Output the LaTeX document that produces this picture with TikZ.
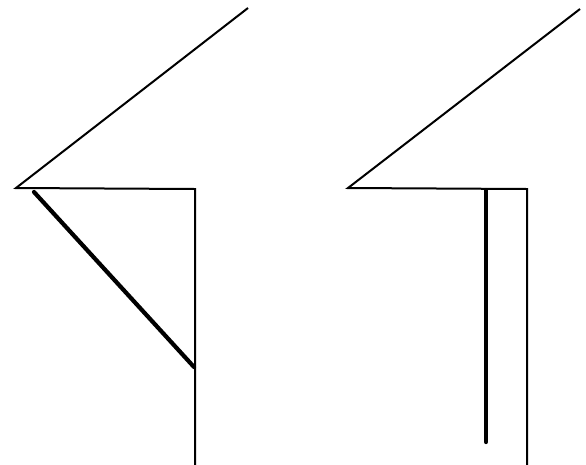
\documentclass[tikz,border=0pt]{standalone}
\begin{document}
\begin{tikzpicture}[x=1pt,y=-1pt,
  thinline/.style={line width=2pt,line join=miter},
  thickline/.style={line width=4.2pt,line cap=round}]
\useasboundingbox (0,0) rectangle (586,464);
% left figure
\coordinate (la) at (16,188);
\coordinate (lt) at (248,8);
\coordinate (lc) at (195,189);
\coordinate (lb) at (195,466);
\coordinate (ld1) at (34,192);
\coordinate (ld2) at (194,367);
\draw[thinline] (lt) -- (la) -- (lc) -- (lb);
\draw[thickline] (ld1) -- (ld2);
% right figure
\coordinate (ra) at (348,188);
\coordinate (rt) at (580,9);
\coordinate (rc) at (527,189);
\coordinate (rb) at (527,466);
\coordinate (rv1) at (486,190);
\coordinate (rv2) at (486,442);
\draw[thinline] (rt) -- (ra) -- (rc) -- (rb);
\draw[thickline] (rv1) -- (rv2);
\end{tikzpicture}
\end{document}
